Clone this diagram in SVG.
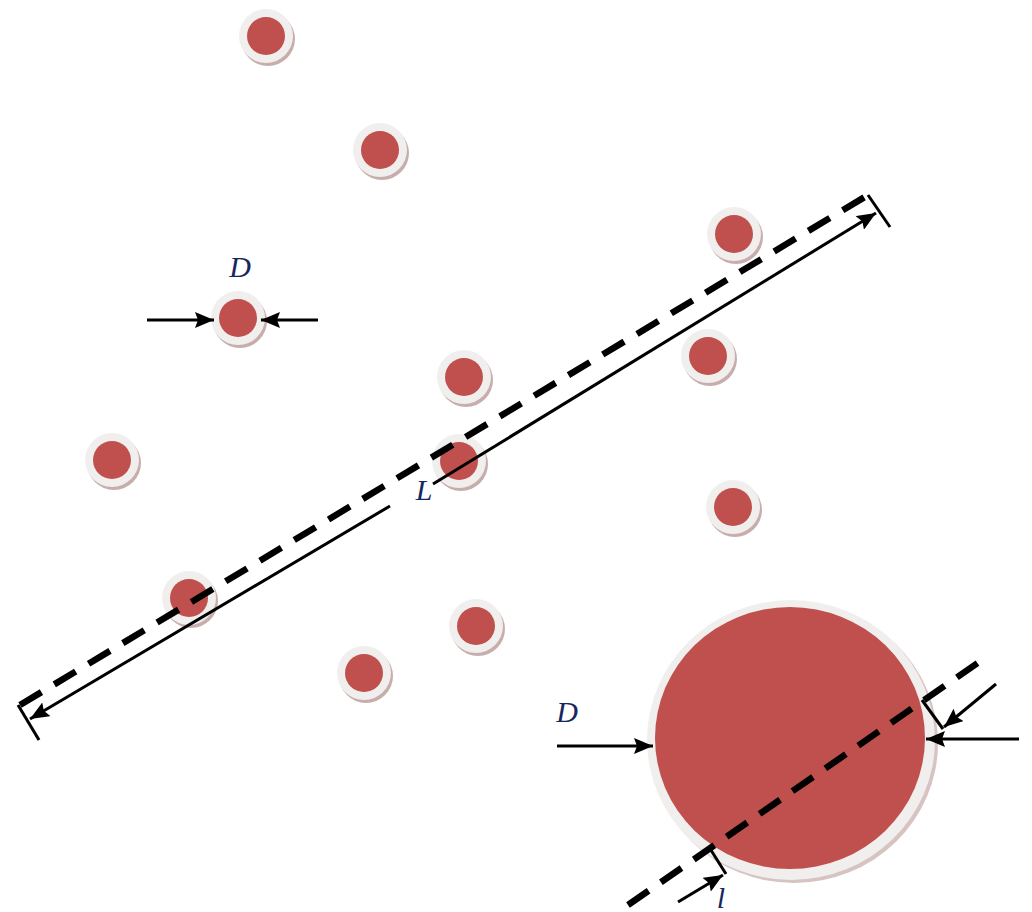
<svg xmlns="http://www.w3.org/2000/svg" width="1032" height="912" viewBox="0 0 1032 912">
<style>
.sh{fill:#c7aeac}
.ring{fill:#f1eeee}
.core{fill:#c0504d}
.dash{fill:none;stroke:#000;stroke-width:6.5;stroke-dasharray:25 15;stroke-linecap:butt}
.ln{fill:none;stroke:#000;stroke-width:3}
.arr{marker-end:url(#ah)}
.lbl{font-family:"Liberation Serif",serif;font-style:italic;font-size:30px;fill:#16275e;text-anchor:middle}
</style>
<defs>
<marker id="ah" markerUnits="userSpaceOnUse" markerWidth="20" markerHeight="16" refX="19" refY="8" orient="auto">
<path d="M0,0 L19,8 L0,16 L3,8 z" fill="#000"/>
</marker>
<g id="p">
<circle class="sh" cx="2" cy="3" r="27"/>
<circle class="ring" cx="0" cy="0" r="27"/>
<circle class="core" cx="0" cy="0" r="19"/>
</g>
</defs>
<rect width="1032" height="912" fill="#fff"/>
<g id="particles">
<g id="p1"><use href="#p" x="266" y="36"/></g>
<g id="p2"><use href="#p" x="380" y="150"/></g>
<g id="p3"><use href="#p" x="734" y="234"/></g>
<g id="p4"><use href="#p" x="238" y="318"/></g>
<g id="p5"><use href="#p" x="464" y="377"/></g>
<g id="p6"><use href="#p" x="708" y="356"/></g>
<g id="p7"><use href="#p" x="112" y="460"/></g>
<g id="p8"><use href="#p" x="459" y="461"/></g>
<g id="p9"><use href="#p" x="733" y="507"/></g>
<g id="p10"><use href="#p" x="189" y="598"/></g>
<g id="p11"><use href="#p" x="476" y="626"/></g>
<g id="p12"><use href="#p" x="364" y="673"/></g>
</g>
<g id="big">
<ellipse cx="794" cy="743" rx="144" ry="140" fill="#d6c3c2"/>
<ellipse class="ring" cx="791" cy="740" rx="144" ry="140"/>
<ellipse class="core" cx="790" cy="738" rx="135" ry="131"/>
</g>
<g id="connectors">
<line class="dash" x1="20" y1="705" x2="868" y2="195"/>
<line class="ln" x1="18" y1="705" x2="39" y2="740"/>
<line class="ln" x1="868" y1="195" x2="890" y2="227"/>
<line class="ln arr" x1="390" y1="506" x2="30" y2="719"/>
<line class="ln arr" x1="433" y1="484" x2="876" y2="213"/>
<line class="ln arr" x1="147" y1="320" x2="214" y2="320"/>
<line class="ln arr" x1="318" y1="320" x2="261" y2="320"/>
<line class="ln arr" x1="557" y1="746" x2="653" y2="746"/>
<line class="ln arr" x1="1019" y1="739" x2="926" y2="739"/>
<line class="dash" x1="628" y1="905" x2="982" y2="660"/>
<line class="ln" x1="922" y1="700" x2="943" y2="729"/>
<line class="ln" x1="709" y1="847" x2="726" y2="874"/>
<line class="ln arr" x1="996" y1="684" x2="944" y2="727"/>
<line class="ln arr" x1="678" y1="902" x2="723" y2="875"/>
</g>
<g id="labels">
<text class="lbl" x="240" y="277">D</text>
<text class="lbl" x="424" y="500">L</text>
<text class="lbl" x="567" y="722">D</text>
<text class="lbl" x="721" y="908">l</text>
</g>
</svg>
